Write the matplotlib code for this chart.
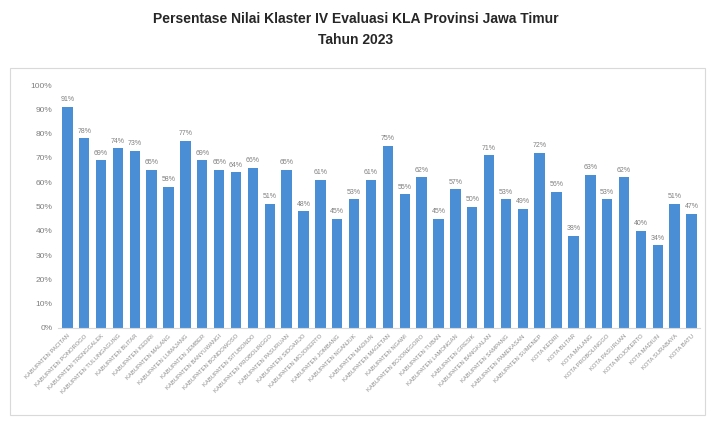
import matplotlib.pyplot as plt
from matplotlib.patches import Rectangle

# Kabupaten/Kota di Jawa Timur
wilayah = [
    "Kabupaten Pacitan", "Kabupaten Ponorogo", "Kabupaten Trenggalek",
    "Kabupaten Tulungagung", "Kabupaten Blitar", "Kabupaten Kediri",
    "Kabupaten Malang", "Kabupaten Lumajang", "Kabupaten Jember",
    "Kabupaten Banyuwangi", "Kabupaten Bondowoso", "Kabupaten Situbondo",
    "Kabupaten Probolinggo", "Kabupaten Pasuruan", "Kabupaten Sidoarjo",
    "Kabupaten Mojokerto", "Kabupaten Jombang", "Kabupaten Nganjuk",
    "Kabupaten Madiun", "Kabupaten Magetan", "Kabupaten Ngawi",
    "Kabupaten Bojonegoro", "Kabupaten Tuban", "Kabupaten Lamongan",
    "Kabupaten Gresik", "Kabupaten Bangkalan", "Kabupaten Sampang",
    "Kabupaten Pamekasan", "Kabupaten Sumenep", "Kota Kediri",
    "Kota Blitar", "Kota Malang", "Kota Probolinggo", "Kota Pasuruan",
    "Kota Mojokerto", "Kota Madiun", "Kota Surabaya", "Kota Batu",
]
persen = [
    91, 78, 69, 74, 73, 65, 58, 77, 69, 65, 64, 66, 51, 65, 48, 61, 45, 53, 61,
    75, 55, 62, 45, 57, 50, 71, 53, 49, 72, 56, 38, 63, 53, 62, 40, 34, 51, 47,
]
y_ticks = [0, 10, 20, 30, 40, 50, 60, 70, 80, 90, 100]

narrow = ["Liberation Sans Narrow", "Liberation Sans", "DejaVu Sans"]

fig = plt.figure(figsize=(7.11, 4.21), dpi=100)
fig.patch.set_facecolor("white")

# frame around the chart area
fig.patches.append(Rectangle((10 / 711, 6 / 421), 695 / 711, 347 / 421,
                             transform=fig.transFigure, fill=False,
                             edgecolor="#d9d9d9", linewidth=0.8))

fig.text(0.5, 1 - 19 / 421, "Persentase Nilai Klaster IV Evaluasi KLA Provinsi Jawa Timur",
         ha="center", va="center", fontsize=10, fontweight="bold",
         family=narrow, color="#262626")
fig.text(0.5, 1 - 40 / 421, "Tahun 2023", ha="center", va="center",
         fontsize=10, fontweight="bold", family=narrow, color="#262626")

ax = fig.add_axes([58 / 711, 1 - 328 / 421, 642 / 711, 243 / 421])
x = range(len(wilayah))
bars = ax.bar(x, persen, width=0.62, color="#4a8fd5")

for xi, v in zip(x, persen):
    ax.text(xi, v + 1.5, f"{v}%", ha="center", va="bottom",
            fontsize=5, color="#808080", family=narrow)

ax.set_ylim(0, 100)
ax.set_xlim(-0.55, len(wilayah) - 0.5)
ax.set_yticks(y_ticks)
ax.set_yticklabels([f"{t}%" for t in y_ticks], fontsize=6,
                   color="#7f7f7f", family=narrow)
ax.set_xticks(list(x))
ax.set_xticklabels([w.upper() for w in wilayah], rotation=45, ha="right",
                   rotation_mode="anchor", fontsize=4.2, color="#8c8c8c",
                   family=narrow)
ax.tick_params(axis="both", length=0, pad=4)
for side in ["top", "right", "left"]:
    ax.spines[side].set_visible(False)
ax.spines["bottom"].set_color("#d9d9d9")
ax.spines["bottom"].set_linewidth(0.8)

fig.savefig("out.png", dpi=100, facecolor="white")
plt.close(fig)
